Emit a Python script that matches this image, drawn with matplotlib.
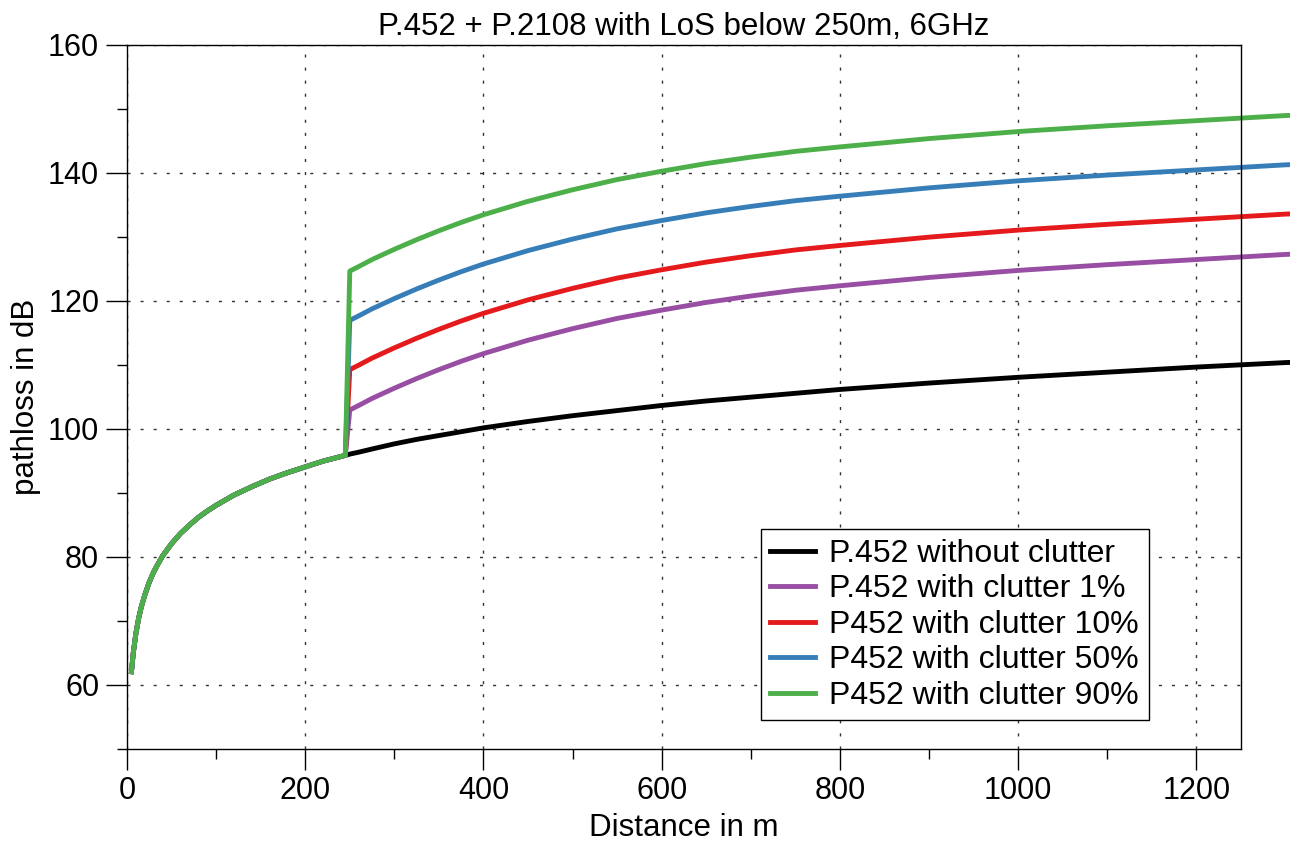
import matplotlib
matplotlib.use("Agg")
import matplotlib.pyplot as plt
from matplotlib.ticker import MultipleLocator

plt.rcParams['font.family'] = ['Liberation Sans', 'DejaVu Sans']

# distances (m) in line of sight (no clutter), and from 250 m on
dist_los = [5, 7, 10, 13, 16, 20, 25, 30, 35, 40, 50, 60, 70, 80, 90, 100, 120, 140,
            160, 180, 200, 220, 245]
dist_far = [250, 260, 275, 300, 325, 350, 375, 400, 450, 500, 550, 600, 650, 700, 750,
            800, 900, 1000, 1100, 1200, 1300, 1320]

# path loss in dB
pl_los = [62.0, 64.9, 68.0, 70.3, 72.1, 74.0, 76.0, 77.6, 78.9, 80.1, 82.0, 83.6, 84.9,
          86.1, 87.1, 88.0, 89.6, 90.9, 92.1, 93.1, 94.0, 94.9, 95.8]
pl_free = [96.0, 96.3, 96.8, 97.6, 98.3, 98.9, 99.5, 100.1, 101.1, 102.0, 102.8, 103.6,
           104.3, 104.9, 105.5, 106.1, 107.1, 108.0, 108.8, 109.6, 110.3, 110.4]
pl_c01 = [102.9, 103.6, 104.7, 106.3, 107.8, 109.2, 110.5, 111.7, 113.8, 115.6, 117.2,
          118.5, 119.7, 120.7, 121.6, 122.3, 123.6, 124.7, 125.6, 126.4, 127.2, 127.3]
pl_c10 = [109.2, 109.9, 111.0, 112.6, 114.1, 115.5, 116.8, 118.0, 120.1, 121.9, 123.5,
          124.8, 126.0, 127.0, 127.9, 128.6, 129.9, 131.0, 131.9, 132.7, 133.5, 133.6]
pl_c50 = [116.9, 117.6, 118.7, 120.3, 121.8, 123.2, 124.5, 125.7, 127.8, 129.6, 131.2,
          132.5, 133.7, 134.7, 135.6, 136.3, 137.6, 138.7, 139.6, 140.4, 141.2, 141.3]
pl_c90 = [124.6, 125.3, 126.4, 128.0, 129.5, 130.9, 132.2, 133.4, 135.5, 137.3, 138.9,
          140.2, 141.4, 142.4, 143.3, 144.0, 145.3, 146.4, 147.3, 148.1, 148.9, 149.0]

labels = ['P.452 without clutter', 'P.452 with clutter 1%', 'P452 with clutter 10%',
          'P452 with clutter 50%', 'P452 with clutter 90%']
colors = ['#000000', '#984ea3', '#e41a1c', '#377eb8', '#4daf4a']
far_series = [pl_free, pl_c01, pl_c10, pl_c50, pl_c90]

fig = plt.figure(figsize=(12.9, 8.41), dpi=100)
ax = fig.add_axes([127/1290, 1 - 748.5/841, (1241-127)/1290, (748.5-44.5)/841])

d = dist_los + dist_far
for lab, col, far in zip(labels, colors, far_series):
    ax.plot(d, pl_los + far, color=col, lw=3.5, label=lab, clip_on=False,
            solid_joinstyle='round')

ax.set_xlim(0, 1250)
ax.set_ylim(50, 160)
ax.xaxis.set_major_locator(MultipleLocator(200))
ax.xaxis.set_minor_locator(MultipleLocator(100))
ax.yaxis.set_major_locator(MultipleLocator(20))
ax.yaxis.set_minor_locator(MultipleLocator(10))
ax.tick_params(which='major', direction='out', length=15, width=1, labelsize=22, pad=5)
ax.tick_params(which='minor', direction='out', length=7.5, width=1)
ax.tick_params(top=False, right=False, which='both')
for s in ax.spines.values():
    s.set_linewidth(1)
    s.set_color('black')

ax.grid(True, which='major', color='#333333', lw=1, linestyle=(0, (2.2, 7.2)))
ax.set_axisbelow(True)

ax.set_title('P.452 + P.2108 with LoS below 250m, 6GHz', fontsize=22.5, pad=7)
ax.set_xlabel('Distance in m', fontsize=22.5, labelpad=5)
ax.set_ylabel('pathloss in dB', fontsize=22.5, labelpad=5)

leg = ax.legend(loc='lower right', bbox_to_anchor=(0.917, 0.04), fontsize=23,
                fancybox=False, framealpha=1, edgecolor='black', handlelength=1.4,
                handletextpad=0.45, labelspacing=0.17, borderpad=0.3,
                borderaxespad=0)
leg.get_frame().set_linewidth(1)

fig.savefig('out.png', dpi=100)
